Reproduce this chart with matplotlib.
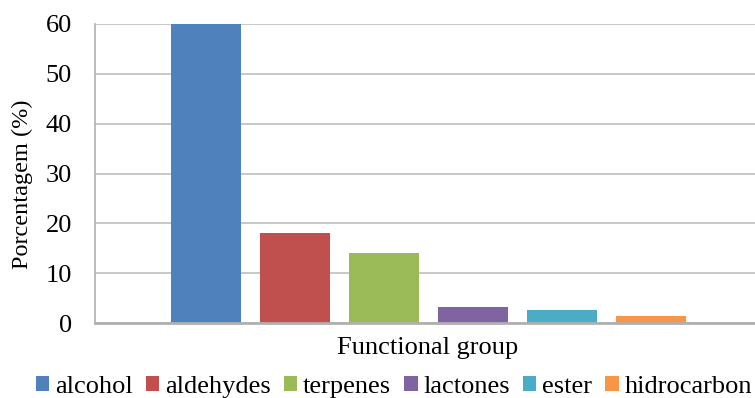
import matplotlib.pyplot as plt

groups = ["alcohol", "aldehydes", "terpenes", "lactones", "ester", "hidrocarbon"]
values = [60.0, 18.1, 14.1, 3.2, 2.6, 1.5]
colors = ["#4F81BD", "#C0504D", "#9BBB59", "#8064A2", "#4BACC6", "#F79646"]
yticks = [0, 10, 20, 30, 40, 50, 60]

plt.rcParams['font.family'] = ['Liberation Serif', 'DejaVu Serif']

fig = plt.figure(figsize=(7.55, 3.98), dpi=100)
ax = fig.add_axes([0.1258, 0.1884, 0.8825, 0.7513])

step = 0.1336
width = 0.105
for i, (name, v, c) in enumerate(zip(groups, values, colors)):
    ax.bar((i - 2.5) * step, v, width=width, color=c, label=name, zorder=3)

ax.set_xlim(-0.5, 0.5)
ax.set_ylim(0, 60)
ax.set_yticks(yticks)
ax.set_xticks([])
ax.tick_params(axis='y', length=0, labelsize=19, pad=16.5)
ax.grid(axis='y', color='#bfbfbf', linewidth=1.2, zorder=0)

for s in ['top', 'right']:
    ax.spines[s].set_visible(False)
ax.spines['left'].set_color('#b0b0b0')
ax.spines['left'].set_linewidth(1.2)
ax.spines['bottom'].set_color('#b0b0b0')
ax.spines['bottom'].set_linewidth(2)
ax.spines['bottom'].set_zorder(4)

ax.set_ylabel("Porcentagem (%)", fontsize=17.5)
ax.yaxis.set_label_coords(-0.093, 0.465)
ax.set_xlabel("Functional group", fontsize=19, labelpad=10)

fig.legend(loc='lower center', bbox_to_anchor=(0.522, -0.06), ncol=6, frameon=False,
           fontsize=19, handlelength=0.5, handleheight=0.5, handletextpad=0.22,
           columnspacing=0.5)

fig.savefig("out.png", dpi=100)
